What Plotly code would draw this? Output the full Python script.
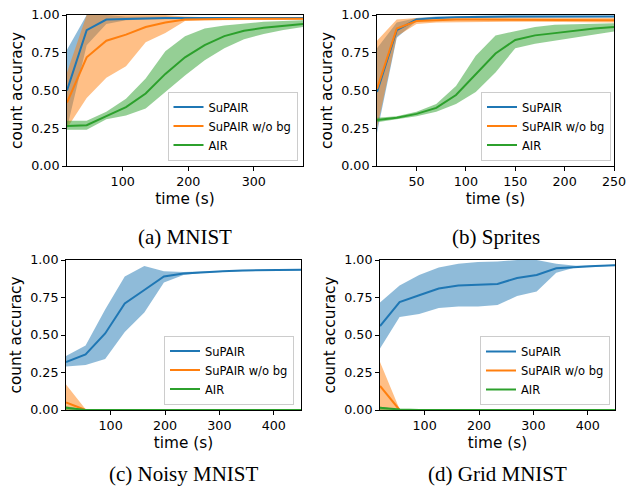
import plotly.graph_objects as go

# ---------------- data ----------------
t_mnist = [15, 45, 75, 105, 135, 165, 195, 225, 255, 285, 315, 345, 375]
mnist_supair = [0.50, 0.90, 0.97, 0.975, 0.978, 0.98, 0.98, 0.98, 0.98, 0.98, 0.98, 0.98, 0.98]
mnist_supair_lo = [0.25, 0.80, 0.94, 0.965, 0.97, 0.972, 0.975, 0.975, 0.975, 0.975, 0.975, 0.975, 0.975]
mnist_supair_hi = [0.77, 1.0, 1.0, 0.99, 0.99, 0.99, 0.985, 0.985, 0.985, 0.985, 0.985, 0.985, 0.985]
mnist_nobg = [0.42, 0.72, 0.83, 0.87, 0.92, 0.95, 0.97, 0.973, 0.975, 0.975, 0.975, 0.975, 0.975]
mnist_nobg_lo = [0.25, 0.45, 0.585, 0.66, 0.82, 0.88, 0.96, 0.965, 0.968, 0.97, 0.97, 0.97, 0.97]
mnist_nobg_hi = [0.62, 1.0, 1.0, 1.0, 1.0, 1.0, 0.99, 0.985, 0.982, 0.98, 0.98, 0.98, 0.98]
mnist_air = [0.265, 0.27, 0.33, 0.39, 0.48, 0.61, 0.72, 0.80, 0.86, 0.895, 0.915, 0.93, 0.94]
mnist_air_lo = [0.24, 0.24, 0.31, 0.335, 0.38, 0.49, 0.60, 0.70, 0.78, 0.84, 0.875, 0.90, 0.92]
mnist_air_hi = [0.30, 0.30, 0.36, 0.445, 0.58, 0.76, 0.86, 0.91, 0.93, 0.945, 0.955, 0.96, 0.965]

t_sprites = [10, 30, 50, 70, 90, 110, 130, 150, 170, 190, 210, 230, 250]
spr_supair = [0.49, 0.90, 0.97, 0.98, 0.985, 0.988, 0.99, 0.99, 0.99, 0.99, 0.99, 0.99, 0.99]
spr_supair_lo = [0.22, 0.85, 0.96, 0.975, 0.98, 0.982, 0.985, 0.985, 0.985, 0.985, 0.985, 0.985, 0.985]
spr_supair_hi = [0.78, 0.95, 0.98, 0.99, 0.99, 0.995, 0.995, 0.995, 0.995, 0.995, 0.995, 0.995, 0.995]
spr_nobg = [0.51, 0.91, 0.96, 0.965, 0.97, 0.97, 0.97, 0.97, 0.97, 0.97, 0.97, 0.968, 0.965]
spr_nobg_lo = [0.25, 0.86, 0.94, 0.95, 0.955, 0.955, 0.955, 0.955, 0.955, 0.955, 0.955, 0.952, 0.95]
spr_nobg_hi = [0.83, 0.97, 0.98, 0.985, 0.985, 0.985, 0.985, 0.985, 0.985, 0.985, 0.985, 0.982, 0.98]
spr_air = [0.305, 0.32, 0.345, 0.385, 0.47, 0.61, 0.745, 0.835, 0.865, 0.88, 0.895, 0.91, 0.92]
spr_air_lo = [0.29, 0.31, 0.33, 0.36, 0.41, 0.49, 0.62, 0.78, 0.81, 0.83, 0.85, 0.87, 0.89]
spr_air_hi = [0.32, 0.33, 0.36, 0.41, 0.53, 0.73, 0.865, 0.89, 0.92, 0.935, 0.94, 0.945, 0.945]

t_noisy = [18, 54, 90, 126, 162, 198, 234, 270, 306, 342, 378, 414, 450]
noisy_supair = [0.32, 0.37, 0.51, 0.71, 0.80, 0.89, 0.91, 0.92, 0.925, 0.93, 0.93, 0.935, 0.935]
noisy_supair_lo = [0.29, 0.30, 0.34, 0.52, 0.65, 0.85, 0.90, 0.915, 0.92, 0.925, 0.925, 0.93, 0.93]
noisy_supair_hi = [0.36, 0.43, 0.67, 0.89, 0.96, 0.925, 0.92, 0.925, 0.93, 0.935, 0.935, 0.94, 0.94]
noisy_nobg = [0.05, 0.0, 0.0, 0.0, 0.0, 0.0, 0.0, 0.0, 0.0, 0.0, 0.0, 0.0, 0.0]
noisy_nobg_lo = [0.0, 0.0, 0.0, 0.0, 0.0, 0.0, 0.0, 0.0, 0.0, 0.0, 0.0, 0.0, 0.0]
noisy_nobg_hi = [0.17, 0.005, 0.0, 0.0, 0.0, 0.0, 0.0, 0.0, 0.0, 0.0, 0.0, 0.0, 0.0]
noisy_air = [0.015, 0.0, 0.0, 0.0, 0.0, 0.0, 0.0, 0.0, 0.0, 0.0, 0.0, 0.0, 0.0]
noisy_air_lo = [0.0, 0.0, 0.0, 0.0, 0.0, 0.0, 0.0, 0.0, 0.0, 0.0, 0.0, 0.0, 0.0]
noisy_air_hi = [0.025, 0.002, 0.0, 0.0, 0.0, 0.0, 0.0, 0.0, 0.0, 0.0, 0.0, 0.0, 0.0]

t_grid = [18, 54, 90, 126, 162, 198, 234, 270, 306, 342, 378, 414, 450]
grid_supair = [0.56, 0.72, 0.765, 0.81, 0.83, 0.835, 0.84, 0.88, 0.90, 0.945, 0.955, 0.96, 0.965]
grid_supair_lo = [0.41, 0.62, 0.64, 0.68, 0.69, 0.69, 0.70, 0.76, 0.79, 0.915, 0.952, 0.958, 0.962]
grid_supair_hi = [0.716, 0.83, 0.90, 0.95, 0.975, 0.987, 0.99, 1.0, 1.0, 0.975, 0.962, 0.965, 0.968]
grid_nobg = [0.16, 0.0, 0.0, 0.0, 0.0, 0.0, 0.0, 0.0, 0.0, 0.0, 0.0, 0.0, 0.0]
grid_nobg_lo = [0.0, 0.0, 0.0, 0.0, 0.0, 0.0, 0.0, 0.0, 0.0, 0.0, 0.0, 0.0, 0.0]
grid_nobg_hi = [0.32, 0.005, 0.0, 0.0, 0.0, 0.0, 0.0, 0.0, 0.0, 0.0, 0.0, 0.0, 0.0]
grid_air = [0.015, 0.003, 0.0, 0.0, 0.0, 0.0, 0.0, 0.0, 0.0, 0.0, 0.0, 0.0, 0.0]
grid_air_lo = [0.0, 0.0, 0.0, 0.0, 0.0, 0.0, 0.0, 0.0, 0.0, 0.0, 0.0, 0.0, 0.0]
grid_air_hi = [0.022, 0.004, 0.0, 0.0, 0.0, 0.0, 0.0, 0.0, 0.0, 0.0, 0.0, 0.0, 0.0]

series_names = ["SuPAIR", "SuPAIR w/o bg", "AIR"]
captions = ["(a) MNIST", "(b) Sprites", "(c) Noisy MNIST", "(d) Grid MNIST"]
x_ticks = [[100, 200, 300], [50, 100, 150, 200, 250], [100, 200, 300, 400], [100, 200, 300, 400]]
y_ticks = [0.0, 0.25, 0.5, 0.75, 1.0]

panels = [
    (t_mnist, [(mnist_supair, mnist_supair_lo, mnist_supair_hi),
               (mnist_nobg, mnist_nobg_lo, mnist_nobg_hi),
               (mnist_air, mnist_air_lo, mnist_air_hi)]),
    (t_sprites, [(spr_supair, spr_supair_lo, spr_supair_hi),
                 (spr_nobg, spr_nobg_lo, spr_nobg_hi),
                 (spr_air, spr_air_lo, spr_air_hi)]),
    (t_noisy, [(noisy_supair, noisy_supair_lo, noisy_supair_hi),
               (noisy_nobg, noisy_nobg_lo, noisy_nobg_hi),
               (noisy_air, noisy_air_lo, noisy_air_hi)]),
    (t_grid, [(grid_supair, grid_supair_lo, grid_supair_hi),
              (grid_nobg, grid_nobg_lo, grid_nobg_hi),
              (grid_air, grid_air_lo, grid_air_hi)]),
]

# ---------------- styling ----------------
W, H = 627, 489
line_colors = ["#1f77b4", "#ff7f0e", "#2ca02c"]
fill_colors = ["rgba(31,119,180,0.5)", "rgba(255,127,14,0.5)", "rgba(44,160,44,0.5)"]

# plot areas in pixels: (left, right, top, bottom)
boxes = [(67, 303, 15, 166), (377, 614, 15, 166), (66, 301, 260, 410), (380, 615, 260, 410)]
# legend boxes: (right, bottom)
legend_pos = [(297.5, 160.5), (611, 160.5), (294, 404.5), (610, 405)]
caption_pos = [(185, 237), (496, 237), (183, 474), (497, 474)]

fig = go.Figure()
tick_font = dict(family="DejaVu Sans", size=12.7, color="black")
title_font = dict(family="DejaVu Sans", size=15.3, color="black")

for i, (t, ser) in enumerate(panels):
    xa = "x" if i == 0 else f"x{i+1}"
    ya = "y" if i == 0 else f"y{i+1}"
    lg = "legend" if i == 0 else f"legend{i+1}"
    # bands
    for k, (m, lo, hi) in enumerate(ser):
        fig.add_trace(go.Scatter(
            x=list(t) + list(t)[::-1], y=list(hi) + list(lo)[::-1],
            fill="toself", fillcolor=fill_colors[k], line=dict(width=0),
            mode="lines", hoverinfo="skip", showlegend=False,
            xaxis=xa, yaxis=ya))
    # mean lines
    for k, (m, lo, hi) in enumerate(ser):
        fig.add_trace(go.Scatter(
            x=t, y=m, mode="lines", name=series_names[k],
            line=dict(color=line_colors[k], width=2),
            xaxis=xa, yaxis=ya, legend=lg, showlegend=True))

layout = dict(
    width=W, height=H, margin=dict(l=0, r=0, t=0, b=0, autoexpand=False),
    paper_bgcolor="white", plot_bgcolor="white", showlegend=True,
)
for i, (t, ser) in enumerate(panels):
    l, r, tp, bt = boxes[i]
    xk = "xaxis" if i == 0 else f"xaxis{i+1}"
    yk = "yaxis" if i == 0 else f"yaxis{i+1}"
    layout[xk] = dict(
        domain=[l / W, r / W], range=[t[0], t[-1]], anchor="y" if i == 0 else f"y{i+1}",
        tickvals=x_ticks[i], ticks="outside", ticklen=4, tickwidth=1, tickcolor="black",
        showline=True, linecolor="black", linewidth=1, mirror=True, automargin=False,
        showgrid=False, zeroline=False, tickfont=tick_font,
        title=dict(text="time (s)", font=title_font, standoff=5),
    )
    layout[yk] = dict(
        domain=[1 - bt / H, 1 - tp / H], range=[0, 1], anchor="x" if i == 0 else f"x{i+1}",
        tickvals=y_ticks, tickformat=".2f", ticks="outside", ticklen=4, tickwidth=1,
        tickcolor="black", showline=True, linecolor="black", linewidth=1, mirror=True,
        showgrid=False, zeroline=False, tickfont=tick_font, automargin=False,
        title=dict(text="count accuracy", font=title_font, standoff=4),
    )
    lr, lb = legend_pos[i]
    lk = "legend" if i == 0 else f"legend{i+1}"
    layout[lk] = dict(
        x=lr / W, y=1 - lb / H, xanchor="right", yanchor="bottom",
        bgcolor="rgba(255,255,255,0.8)", bordercolor="#cccccc", borderwidth=1,
        font=dict(family="DejaVu Sans", size=11.5, color="black"),
        itemwidth=30, tracegroupgap=0,
    )

fig.update_layout(**layout)

for i, cap in enumerate(captions):
    cx, cy = caption_pos[i]
    fig.add_annotation(
        text=cap, x=cx / W, y=1 - cy / H, xref="paper", yref="paper",
        showarrow=False, xanchor="center", yanchor="middle",
        font=dict(family="Liberation Serif", size=21, color="black"),
    )

fig.write_html(
    "out.html",
    config={"displayModeBar": False},
    post_script="document.body.style.margin='0';document.body.style.overflow='hidden';",
)
